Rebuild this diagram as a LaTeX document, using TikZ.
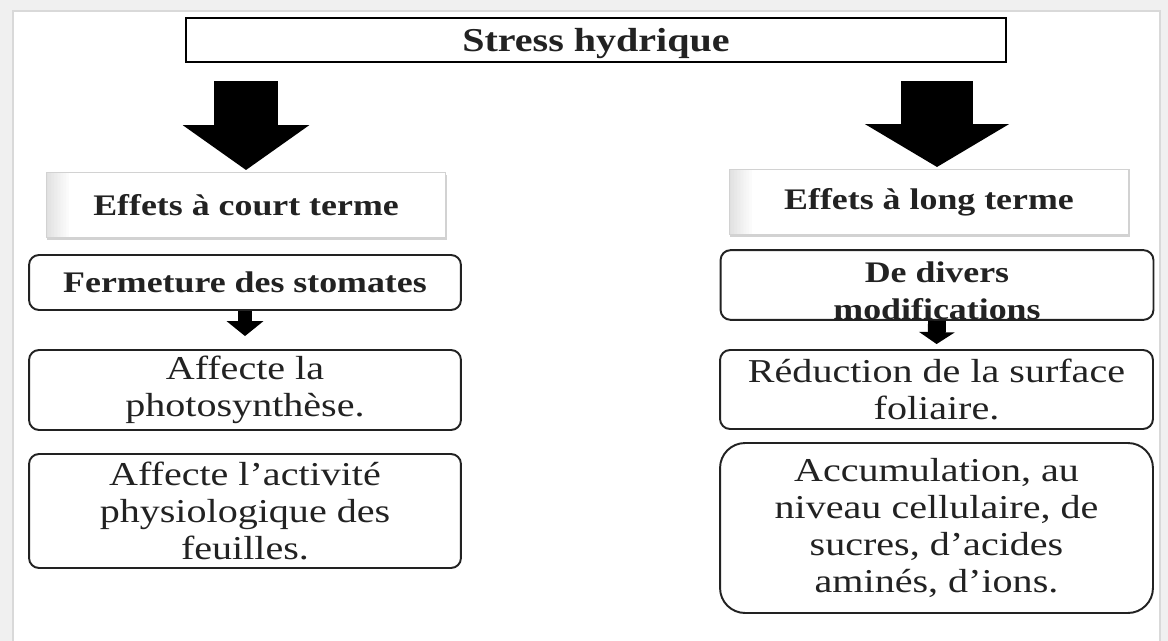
\documentclass[tikz,border=0pt]{standalone}
\usepackage{fontspec}
\setmainfont{Liberation Serif}[FakeStretch=1.2]
\usetikzlibrary{arrows.meta, positioning, shadows}
\definecolor{inkgray}{HTML}{222222}

\begin{document}
\begin{tikzpicture}[x=0.02cm, y=-0.02cm, text=inkgray,
  titlebox/.style={draw=black, line width=1.2pt, fill=white, minimum width=16.4cm,
    minimum height=0.88cm, inner sep=0pt, text depth=0pt,
    font=\bfseries\fontsize{19}{20}\selectfont},
  effbox/.style={draw=gray!35, line width=0.6pt, fill=white, minimum width=8cm,
    minimum height=1.3cm, inner sep=0pt, font=\bfseries\fontsize{17}{20}\selectfont,
    drop shadow={shadow xshift=0.6pt, shadow yshift=-1.6pt, opacity=0.35},
    path picture={\foreach \i in {0,...,14}{
      \fill[gray!\the\numexpr 24-\i*3/2\relax]
        ([xshift=\i*0.03cm]path picture bounding box.south west) rectangle
        ([xshift=\i*0.03cm+0.032cm]path picture bounding box.north west);}}},
  stepbox/.style={draw=inkgray, line width=1.1pt, rounded corners=0.2cm, fill=white,
    minimum width=8.66cm, inner sep=0pt, align=center,
    font=\fontsize{19}{21}\selectfont},
  boldstep/.style={stepbox, font=\bfseries\fontsize{17}{21}\selectfont},
  blockarrow/.style n args={3}{draw=black, line width=#1,
    -{Triangle[width=#2, length=#3, line width=0pt]}},
]
  % frame
  \useasboundingbox (0,0) rectangle (1168,641);
  \fill[gray!12] (0,0) rectangle (1168,641);
  \fill[white] (13,11) rectangle (1160,641);
  \draw[gray!30, line width=0.8pt] (13,641) -- (13,11) -- (1160,11) -- (1160,641);

  % title
  \node[titlebox] (title) at (596,40) {Stress hydrique};

  % left column
  \node[effbox] (shortT) at (246,205) {Effets à court terme};
  \node[boldstep, minimum width=8.64cm, minimum height=1.1cm] (stom) at (245,282.5)
    {Fermeture des stomates};
  \node[stepbox, minimum width=8.64cm, minimum height=1.6cm] (photo) at (245,390)
    {Affecte la\\photosynthèse.};
  \node[stepbox, minimum width=8.64cm, minimum height=2.28cm] (activ) at (245,511)
    {Affecte l’activité\\physiologique des\\feuilles.};

  % right column
  \node[effbox] (longT) at (929,202) {Effets à long terme};
  \node[boldstep, minimum height=1.32cm] (divers) at (937,285)
    {\rule{0pt}{18.5pt}De divers\\modifications};
  \node[stepbox, minimum height=1.58cm] (reduc) at (936.5,389.5)
    {Réduction de la surface\\foliaire.};
  \node[stepbox, rounded corners=0.5cm, minimum height=3.4cm] (accum) at (936.5,528)
    {Accumulation, au\\niveau cellulaire, de\\sucres, d’acides\\aminés, d’ions.};

  % arrows
  \draw[blockarrow={36pt}{72pt}{25.5pt}, shorten <=0.36cm, shorten >=0.04cm]
    (shortT.north |- title.south) -- (shortT.north);
  \draw[blockarrow={40.8pt}{82pt}{24.4pt}, shorten <=0.36cm, shorten >=0.04cm]
    (divers.north |- title.south) -- (divers.north |- longT.north);
  \draw[blockarrow={8.5pt}{21pt}{8.5pt}, shorten >=0.26cm] (stom.south) -- (photo.north);
  \draw[blockarrow={10.2pt}{20.4pt}{6.8pt}, shorten >=0.1cm] (divers.south) -- (reduc.north);
\end{tikzpicture}
\end{document}
